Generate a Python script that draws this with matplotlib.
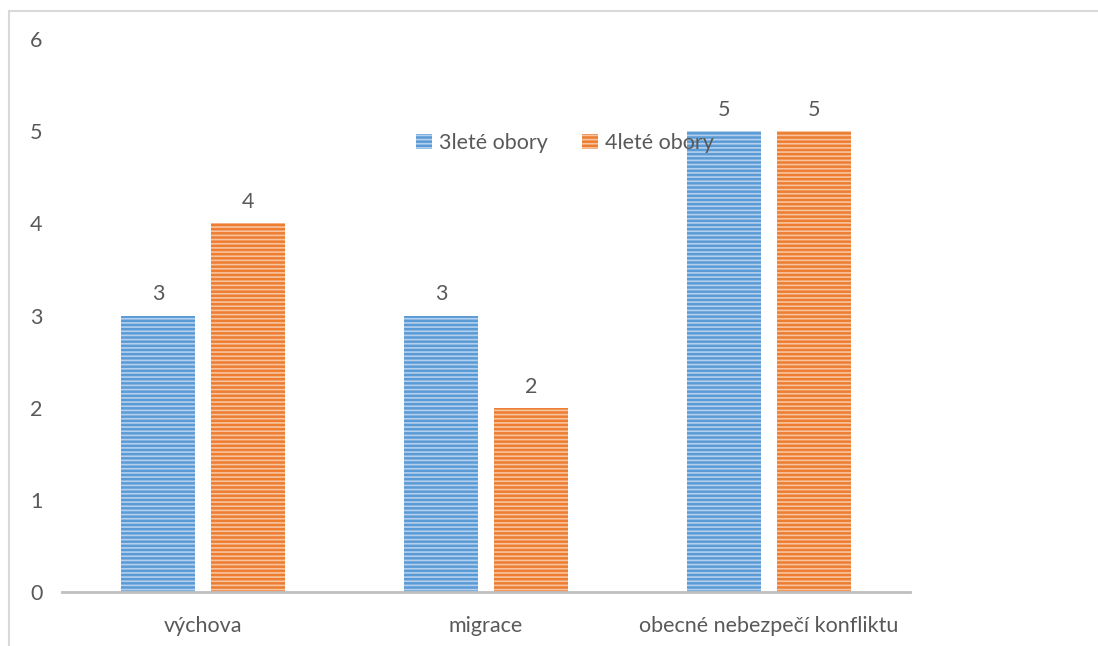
import matplotlib
matplotlib.use('Agg')
import matplotlib.pyplot as plt
import matplotlib.patches as mpatches
import numpy as np

plt.rcParams['font.family'] = ['Lato', 'DejaVu Sans']
plt.rcParams['hatch.linewidth'] = 1.2

categories = ['výchova', 'migrace', 'obecné nebezpečí konfliktu']
tri_lete = [3, 3, 5]
ctyr_lete = [4, 2, 5]
series_names = ['3leté obory', '4leté obory']

blue = '#5B9BD5'
blue_light = '#B4D0EE'
orange = '#ED7D31'
orange_light = '#F8C4A0'
text_col = '#595959'
fs = 15.5

fig = plt.figure(figsize=(10.98, 6.46), dpi=100)
ax = fig.add_axes([62 / 1098, 1 - 592 / 646, 848 / 1098, 553 / 646])

x = np.arange(len(categories))
w = 0.262
gap = 0.057
off = (w + gap) / 2

b1 = ax.bar(x - off, tri_lete, w, color=blue, edgecolor=blue_light, linewidth=0,
            hatch='----', label=series_names[0])
b2 = ax.bar(x + off, ctyr_lete, w, color=orange, edgecolor=orange_light, linewidth=0,
            hatch='----', label=series_names[1])

for bars, vals in ((b1, tri_lete), (b2, ctyr_lete)):
    for rect, v in zip(bars, vals):
        ax.annotate(str(v), (rect.get_x() + rect.get_width() / 2, v),
                    xytext=(0, 8), textcoords='offset points',
                    ha='center', va='bottom', fontsize=fs, color=text_col)

ax.set_xlim(-0.5, len(categories) - 0.5)
ax.set_ylim(0, 6)
ax.set_yticks(range(0, 7))
ax.set_xticks(x)
ax.set_xticklabels(categories)
ax.tick_params(axis='both', length=0, labelsize=fs, labelcolor=text_col)
ax.tick_params(axis='x', pad=17)
ax.tick_params(axis='y', pad=14)

for s in ('top', 'right', 'left'):
    ax.spines[s].set_visible(False)
ax.spines['bottom'].set_color('#BFBFBF')
ax.spines['bottom'].set_linewidth(2)

leg = ax.legend(loc='center', bbox_to_anchor=(0.593, 0.812), ncol=2, frameon=False,
                fontsize=fs, handlelength=0.75, handleheight=0.75, handletextpad=0.3,
                columnspacing=1.6)
for t in leg.get_texts():
    t.set_color(text_col)

# light chart border
frame = mpatches.Rectangle((9 / 1098, -0.1), 1.2, 1.1 - 11 / 646,
                           transform=fig.transFigure, fill=False,
                           edgecolor='#D9D9D9', linewidth=1.5)
fig.patches.append(frame)

fig.savefig('out.png', dpi=100)
